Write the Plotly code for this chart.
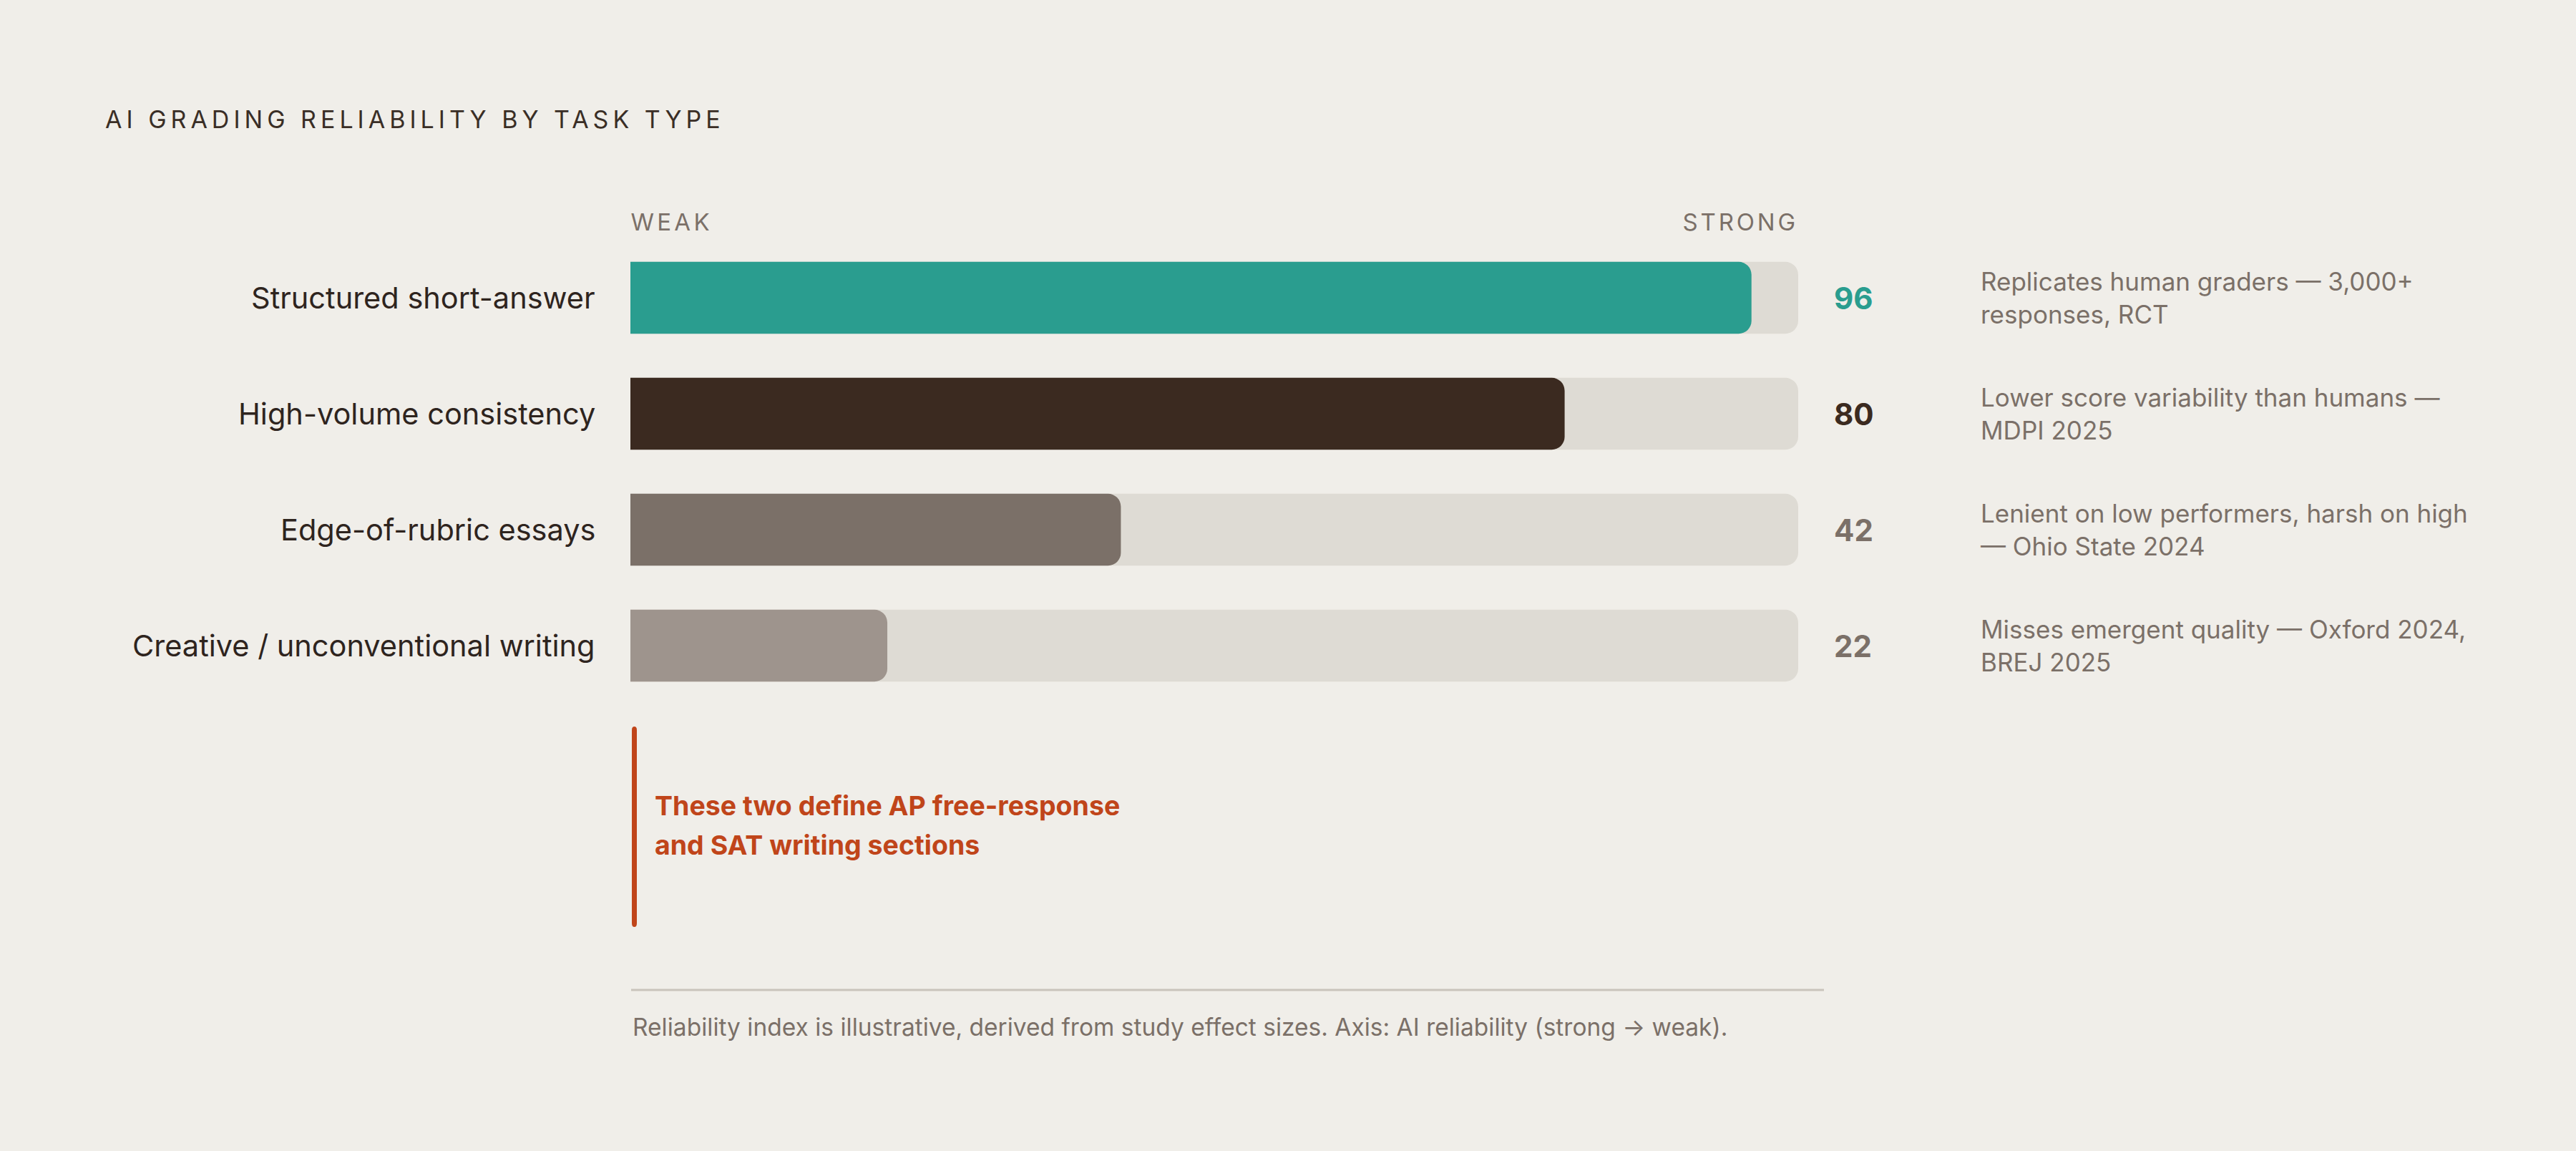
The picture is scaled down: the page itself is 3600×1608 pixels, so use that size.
import plotly.graph_objects as go

tasks = ["Structured short-answer", "High-volume consistency",
         "Edge-of-rubric essays", "Creative / unconventional writing"]
scores = [96, 80, 42, 22]
notes = ["Replicates human graders — 3,000+<br>responses, RCT",
         "Lower score variability than humans —<br>MDPI 2025",
         "Lenient on low performers, harsh on high<br>— Ohio State 2024",
         "Misses emergent quality — Oxford 2024,<br>BREJ 2025"]
max_score = 100

bg = "#f0eee9"
track = "#dedbd4"
bar_colors = ["#2a9d8f", "#3b2a20", "#7b7068", "#9e948d"]
value_colors = ["#2a9d8f", "#3b2a20", "#7b7068", "#7b7068"]
ink = "#2e241e"
muted = "#7b7068"
accent = "#c0451a"
FONT = "Inter"

W, H = 3600, 1608

def px(x):
    return x / W

def py(y):
    return 1 - y / H

fig = go.Figure()
# grey track on x/y, coloured score bars on an overlaid x2 so each gets its own rounding
fig.add_trace(go.Bar(y=tasks, x=[max_score] * len(tasks), orientation="h",
                     marker=dict(color=track, line_width=0), width=0.62,
                     hoverinfo="skip", showlegend=False))
fig.add_trace(go.Bar(y=tasks, x=scores, orientation="h", xaxis="x2",
                     marker=dict(color=bar_colors, line_width=0), width=0.62,
                     hoverinfo="skip", showlegend=False))

anns = []
for t, s, n, vc in zip(tasks, scores, notes, value_colors):
    anns.append(dict(x=0, y=t, xref="x", yref="y", text=t, showarrow=False,
                     xanchor="right", yanchor="middle", xshift=-47,
                     font=dict(family=FONT, size=41.5, color=ink)))
    anns.append(dict(x=max_score, y=t, xref="x", yref="y", text=str(s), showarrow=False,
                     xanchor="left", yanchor="middle", xshift=48,
                     font=dict(family=FONT, size=42, color=vc, weight="bold")))
    anns.append(dict(x=max_score, y=t, xref="x", yref="y", text=n, showarrow=False,
                     xanchor="left", yanchor="middle", align="left", xshift=253,
                     font=dict(family=FONT, size=35, color=muted)))

# header texts (letter-spaced in post_script, so centred on their target span)
anns.append(dict(x=px(580), y=py(167), xref="paper", yref="paper", showarrow=False,
                 text="AI GRADING RELIABILITY BY TASK TYPE", xanchor="center", yanchor="middle",
                 font=dict(family=FONT, size=34, color="#3a2e26")))
anns.append(dict(x=px(939), y=py(310), xref="paper", yref="paper", showarrow=False,
                 text="WEAK", xanchor="center", yanchor="middle",
                 font=dict(family=FONT, size=33, color=muted)))
anns.append(dict(x=px(2432), y=py(310), xref="paper", yref="paper", showarrow=False,
                 text="STRONG", xanchor="center", yanchor="middle",
                 font=dict(family=FONT, size=33, color=muted)))

# callout
anns.append(dict(x=px(913), y=py(1125), xref="paper", yref="paper", showarrow=False,
                 text="These two define AP free-response", xanchor="left", yanchor="middle",
                 font=dict(family=FONT, size=37.5, color=accent, weight="bold")))
anns.append(dict(x=px(913), y=py(1180), xref="paper", yref="paper", showarrow=False,
                 text="and SAT writing sections", xanchor="left", yanchor="middle",
                 font=dict(family=FONT, size=37.5, color=accent, weight="bold")))

# footer
anns.append(dict(x=px(882), y=py(1435), xref="paper", yref="paper", showarrow=False,
                 text="Reliability index is illustrative, derived from study effect sizes. "
                      "Axis: AI reliability (strong → weak).",
                 xanchor="left", yanchor="middle", font=dict(family=FONT, size=33.5, color=muted)))

shapes = [
    dict(type="path", xref="paper", yref="paper", fillcolor=accent, line_width=0,
         path=f"M {px(883)},{py(1020)} Q {px(883)},{py(1015)} {px(886.5)},{py(1015)} "
              f"Q {px(890)},{py(1015)} {px(890)},{py(1020)} L {px(890)},{py(1290)} "
              f"Q {px(890)},{py(1295)} {px(886.5)},{py(1295)} Q {px(883)},{py(1295)} "
              f"{px(883)},{py(1290)} Z"),
    dict(type="line", xref="paper", yref="paper", x0=px(882), x1=px(2549),
         y0=py(1383), y1=py(1383), line=dict(color="#c9c4bc", width=3)),
]

dom = [px(881), px(2513)]
fig.update_layout(
    width=W, height=H,
    paper_bgcolor=bg, plot_bgcolor=bg,
    margin=dict(l=0, r=0, t=0, b=0),
    barmode="overlay", barcornerradius=18,
    xaxis=dict(domain=dom, range=[0, max_score], visible=False, fixedrange=True),
    xaxis2=dict(domain=dom, range=[0, max_score], visible=False, fixedrange=True,
                overlaying="x"),
    yaxis=dict(domain=[py(983), py(335)], range=[3.5, -0.5], visible=False,
               fixedrange=True),
    annotations=anns, shapes=shapes,
    showlegend=False,
)

spacing_js = """
document.body.style.margin = '0';
var sp = {'AI GRADING RELIABILITY BY TASK TYPE': 6, 'WEAK': 4.3, 'STRONG': 3.8};
document.querySelectorAll('text.annotation-text').forEach(function (t) {
  var k = t.textContent;
  if (sp[k] !== undefined) { t.setAttribute('letter-spacing', sp[k] + 'px'); }
});
"""

fig.write_html("out.html", post_script=spacing_js, config={"displayModeBar": False})
